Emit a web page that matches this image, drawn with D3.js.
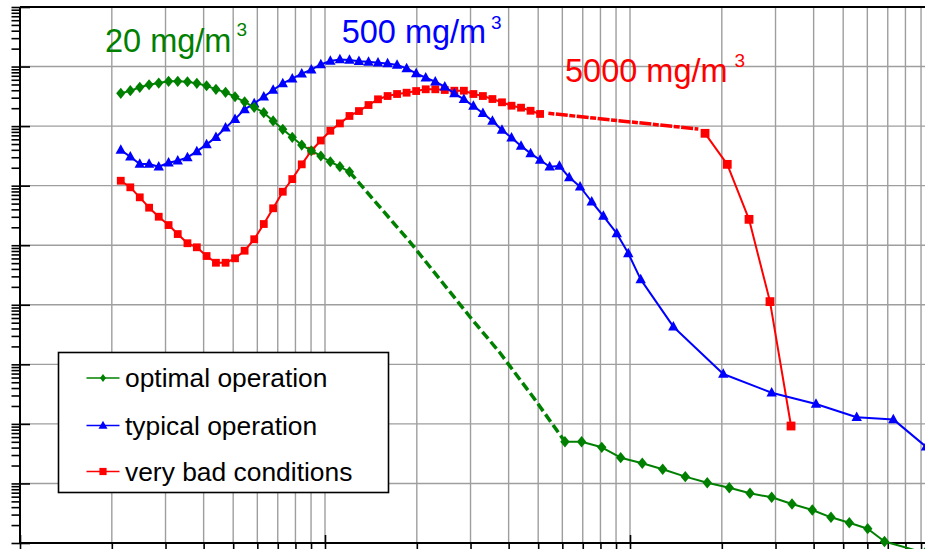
<!DOCTYPE html>
<html>
<head>
<meta charset="utf-8">
<script src="https://cdn.jsdelivr.net/npm/d3@7"></script>
<style>
  html, body { margin: 0; padding: 0; background: #fff; }
  svg { display: block; font-family: "Liberation Sans", Arial, Helvetica, sans-serif; }
</style>
</head>
<body>
<svg id="chart" width="925" height="549"></svg>
<script>
// ---- Data -------------------------------------------------------------
// Fine-particle sizer channels (particle diameter, nm)
const fineSizes = [21.4, 23.0, 24.7, 26.5, 28.5, 30.7, 32.9, 35.4, 38.0, 40.9,
  43.9, 47.2, 50.7, 54.5, 58.6, 63.0, 67.6, 72.7, 78.1, 83.9,
  90.2, 96.9, 104.1, 111.9, 120.3, 129.2, 138.9, 149.2, 160.4, 172.3,
  185.2, 199.0, 213.9, 229.9, 247.0, 265.5, 285.3, 306.6, 329.4, 354.0,
  380.4, 408.8, 439.3, 472.1, 507.3, 545.2];

// Optimal operation (20 mg/m3)
const optimalFine = [3.55e7, 3.93e7, 4.48e7, 4.95e7, 5.28e7, 5.65e7, 5.65e7, 5.56e7, 5.22e7, 4.76e7,
  4.14e7, 3.69e7, 3.11e7, 2.56e7, 2.07e7, 1.68e7, 1.22e7, 8.83e6, 6.49e6, 4.81e6,
  3.86e6, 3.15e6, 2.52e6, 2.08e6, 1.71e6];
const optimalGapSizes = [190, 299, 375, 481];
const optimalGapValues = [1.13e5, 6.23e3, 1.55e3, 283];
const optimalCoarseSizes = [612, 694, 808, 932, 1097, 1280, 1518, 1792, 2116, 2474,
  2914, 3398, 3960, 4560, 5236, 6017, 6830, 9273];
const optimalCoarseValues = [50.2, 50.2, 40.4, 27.1, 21.8, 17.3, 13.0, 10.3, 8.48, 6.83,
  5.85, 4.52, 3.58, 2.70, 2.19, 1.74, 1.06, 0.68];

// Typical operation (500 mg/m3)
const typicalFine = [3.96e6, 3.06e6, 2.31e6, 2.31e6, 2.08e6, 2.43e6, 2.62e6, 2.99e6, 3.77e6, 4.94e6,
  6.49e6, 9.40e6, 1.31e7, 1.91e7, 2.41e7, 3.11e7, 4.04e7, 5.22e7, 6.25e7, 7.59e7,
  8.85e7, 1.09e8, 1.24e8, 1.31e8, 1.29e8, 1.23e8, 1.20e8, 1.16e8, 1.13e8, 1.06e8,
  9.33e7, 7.69e7, 6.49e7, 5.56e7, 4.58e7, 3.55e7, 2.82e7, 2.17e7, 1.64e7, 1.22e7,
  8.59e6, 6.38e6, 4.63e6, 3.49e6, 2.70e6, 2.08e6];
const typicalCoarseSizes = [587, 632, 686, 749, 818, 905, 987, 1084, 1387, 2022,
  2914, 4072, 5537, 7300, 9343];
const typicalCoarseValues = [2.14e6, 1.38e6, 9.59e5, 5.37e5, 3.09e5, 1.58e5, 7.31e4, 2.67e4, 4.29e3, 687,
  334, 216, 129, 119, 41.4];

// Very bad conditions (5000 mg/m3)
const badFine = [1.21e6, 9.38e5, 6.37e5, 4.27e5, 3.01e5, 2.18e5, 1.54e5, 1.08e5, 9.23e4, 6.59e4,
  5.08e4, 5.08e4, 6.03e4, 8.09e4, 1.26e5, 2.27e5, 4.17e5, 7.91e5, 1.29e6, 2.28e6,
  3.86e6, 5.73e6, 8.36e6, 1.11e7, 1.48e7, 1.79e7, 2.26e7, 2.82e7, 3.20e7, 3.46e7,
  3.64e7, 3.88e7, 4.15e7, 4.15e7, 4.04e7, 3.93e7, 3.93e7, 3.46e7, 3.20e7, 2.85e7,
  2.51e7, 2.20e7, 2.04e7, 1.81e7, 1.60e7];
const badBridgeSizes = [540, 1675];
const badBridgeValues = [1.64e7, 8.93e6];
const badCoarseSizes = [1762, 2084, 2456, 2877, 3373];
const badCoarseValues = [7.57e6, 2.28e6, 2.72e5, 1.13e4, 92.1];

const seriesNames = ["optimal operation", "typical operation", "very bad conditions"];
const seriesColors = ["#008000", "#0000ff", "#ff0000"];
const seriesLabels = ["20 mg/m", "500 mg/m", "5000 mg/m"];

// ---- Scales ------------------------------------------------------------
const svg = d3.select("#chart");
const x = d3.scaleLog().domain([10, 10000]).range([20, 935]);
const y = d3.scaleLog().domain([1, 1e9]).range([543, 7]);

const isDecade = v => Math.abs(Math.log10(v) - Math.round(Math.log10(v))) < 1e-9;
const xTicks = x.ticks(10);
const yTicks = y.ticks(10);
const xMajor = xTicks.filter(isDecade);
const yMajor = yTicks.filter(isDecade);

// ---- Grid --------------------------------------------------------------
const grid = svg.append("g").attr("stroke", "#9e9e9e").attr("stroke-width", 1.4);
grid.selectAll("line.v").data(xTicks).join("line")
  .attr("x1", d => x(d)).attr("x2", d => x(d))
  .attr("y1", y(1e9)).attr("y2", y(1));
grid.selectAll("line.h").data(yMajor).join("line")
  .attr("x1", x(10)).attr("x2", 935)
  .attr("y1", d => y(d)).attr("y2", d => y(d));

// ---- Axes --------------------------------------------------------------
const tidy = g => g.call(s => s.selectAll("line").attr("stroke", "#000").attr("stroke-width", 1.6))
                   .call(s => s.select(".domain").remove());

svg.append("g").attr("transform", `translate(${x(10)},0)`)
  .call(d3.axisLeft(y).tickValues(yTicks).tickSize(8.5).tickFormat(""))
  .call(tidy);
svg.append("g").attr("transform", `translate(${x(10)},0)`)
  .call(d3.axisRight(y).tickValues(yMajor).tickSize(10).tickFormat(""))
  .call(tidy);
svg.append("g").attr("transform", `translate(0,${y(1)})`)
  .call(d3.axisBottom(x).tickValues(xTicks).tickSize(8).tickFormat(""))
  .call(tidy);
svg.append("g").attr("transform", `translate(0,${y(1)})`)
  .call(d3.axisTop(x).tickValues(xMajor).tickSize(8).tickFormat(""))
  .call(tidy);

// frame lines: left, bottom, top
const frame = svg.append("g").attr("stroke", "#000").attr("stroke-width", 2);
frame.append("line").attr("x1", x(10)).attr("x2", x(10)).attr("y1", y(1e9)).attr("y2", y(1));
frame.append("line").attr("x1", x(10)).attr("x2", 935).attr("y1", y(1)).attr("y2", y(1));
frame.append("line").attr("x1", x(10)).attr("x2", 935).attr("y1", y(1e9)).attr("y2", y(1e9));

// ---- Series ------------------------------------------------------------
const line = d3.line().x(d => x(d[0])).y(d => y(d[1]));
const zip = (xs, ys) => ys.map((v, i) => [xs[i], v]);

const optFine = zip(fineSizes, optimalFine);
const optGap = zip(optimalGapSizes, optimalGapValues);
const optCoarse = zip(optimalCoarseSizes, optimalCoarseValues);
const typAll = zip(fineSizes, typicalFine).concat(zip(typicalCoarseSizes, typicalCoarseValues));
const badFinePts = zip(fineSizes, badFine);
const badBridge = zip(badBridgeSizes, badBridgeValues);
const badCoarse = zip(badCoarseSizes, badCoarseValues);

const diamond = (w, h) => `M0,${-h}L${w},0L0,${h}L${-w},0Z`;
const triangle = (w, h) => `M0,${-h * 0.6}L${w},${h * 0.4}L${-w},${h * 0.4}Z`;
const square = s => `M${-s},${-s}H${s}V${s}H${-s}Z`;

function drawPath(pts, color, width, dash) {
  svg.append("path").datum(pts)
    .attr("fill", "none").attr("stroke", color).attr("stroke-width", width)
    .attr("stroke-dasharray", dash || null)
    .attr("stroke-linejoin", "round")
    .attr("d", line);
}
function drawMarkers(pts, color, shape) {
  svg.append("g").selectAll("path").data(pts).join("path")
    .attr("transform", d => `translate(${x(d[0])},${y(d[1])})`)
    .attr("d", shape).attr("fill", color);
}

// very bad conditions
drawPath(badFinePts, seriesColors[2], 2);
drawPath(badBridge, seriesColors[2], 3.5, "6 1.5 12 1.5");
drawPath(badCoarse, seriesColors[2], 2);
drawMarkers(badFinePts, seriesColors[2], square(3.9));
drawMarkers(badCoarse, seriesColors[2], square(4.4));

// typical operation
drawPath(typAll, seriesColors[1], 2);
drawMarkers(typAll, seriesColors[1], triangle(5.2, 9.5));

// optimal operation
drawPath(optFine, seriesColors[0], 2);
drawPath([optFine[optFine.length - 1]].concat(optGap, [optCoarse[0]]), seriesColors[0], 3.5, "9 4");
drawPath(optCoarse, seriesColors[0], 2);
drawMarkers(optFine, seriesColors[0], diamond(4.6, 5.6));
drawMarkers(optCoarse, seriesColors[0], diamond(4.7, 5.7));

// ---- Concentration labels ---------------------------------------------
const labelPos = [[105, 51.7, 236.5, 36], [341.7, 43.3, 491, 28.5], [565, 82.3, 734.5, 67]];
seriesLabels.forEach((t, i) => {
  const p = labelPos[i];
  svg.append("text").attr("x", p[0]).attr("y", p[1])
    .attr("font-size", 32.5).attr("fill", seriesColors[i]).text(t);
  svg.append("text").attr("x", p[2]).attr("y", p[3])
    .attr("font-size", 19).attr("fill", seriesColors[i]).text("3");
});

// ---- Legend ------------------------------------------------------------
const legend = svg.append("g");
legend.append("rect").attr("x", 58.5).attr("y", 352.5).attr("width", 330).attr("height", 140)
  .attr("fill", "#fff").attr("stroke", "#000").attr("stroke-width", 1.6);
const legendShapes = [diamond(3, 4), triangle(4.5, 8), square(3.6)];
const rowY = [378, 425.5, 471.5];
seriesNames.forEach((name, i) => {
  const g = legend.append("g").attr("transform", `translate(0,${rowY[i]})`);
  g.append("line").attr("x1", 86.5).attr("x2", 119.5).attr("y1", 0).attr("y2", 0)
    .attr("stroke", seriesColors[i]).attr("stroke-width", 1.6);
  g.append("path").attr("transform", "translate(103,0)").attr("d", legendShapes[i])
    .attr("fill", seriesColors[i]);
  g.append("text").attr("x", 125).attr("y", 9).attr("font-size", 26.4).attr("fill", "#000").text(name);
});
</script>
</body>
</html>
